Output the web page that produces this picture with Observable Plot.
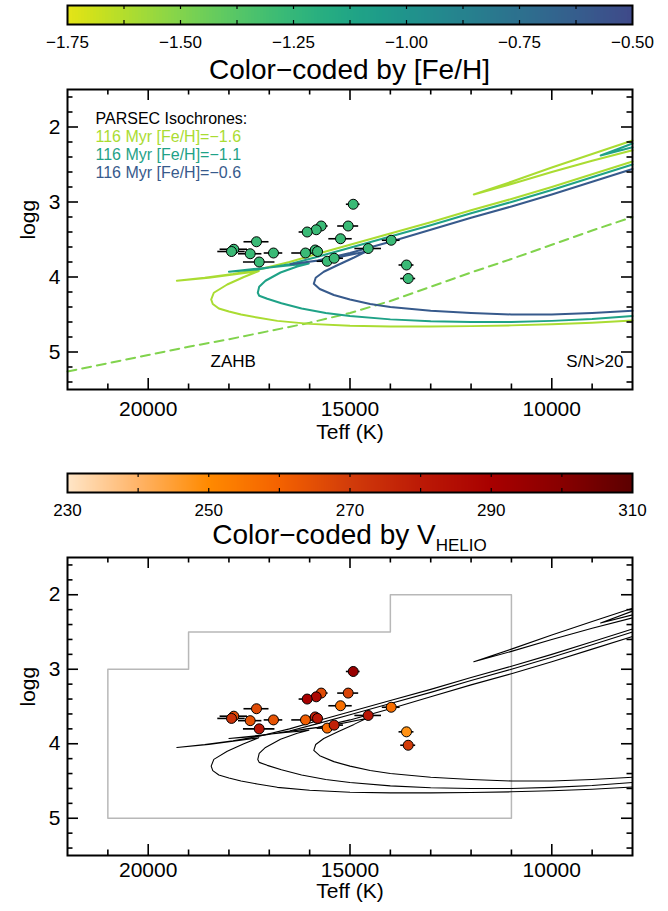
<!DOCTYPE html>
<html><head><meta charset="utf-8">
<script src="https://cdn.jsdelivr.net/npm/d3@7"></script>
<script src="https://cdn.jsdelivr.net/npm/@observablehq/plot@0.6"></script>
<style>
html,body{margin:0;padding:0;background:#fff;}
#root{position:relative;width:668px;height:911px;overflow:hidden;font-family:"Liberation Sans",Arial,Helvetica,sans-serif;color:#000;}
.title{position:absolute;left:67px;width:565px;text-align:center;font-size:28px;line-height:28px;white-space:nowrap;z-index:5;}
</style></head>
<body><div id="root"></div>
<script>
// ---------- data ----------
const starTeff   = [14920, 15713, 15837, 16061, 15045, 15235, 17317, 17879, 17936, 17473, 16896, 16103, 15862, 15805, 17250, 15565, 15392, 14549, 13979, 13600, 13558];
const starLogg   = [3.03, 3.32, 3.37, 3.40, 3.32, 3.49, 3.53, 3.63, 3.66, 3.69, 3.68, 3.68, 3.64, 3.66, 3.80, 3.79, 3.75, 3.62, 3.51, 3.84, 4.02];
const starTeffErr= [170, 170, 170, 200, 260, 290, 310, 340, 340, 290, 230, 340, 150, 150, 390, 250, 230, 330, 220, 185, 185];
const starFeH    = [-1.27, -1.27, -1.27, -1.27, -1.27, -1.27, -1.27, -1.27, -1.27, -1.27, -1.27, -1.27, -1.27, -1.27, -1.27, -1.27, -1.27, -1.27, -1.27, -1.27, -1.27];
const starVhelio = [295, 266, 287, 290, 268, 257, 266, 266, 273, 264, 264, 261, 279, 281, 282, 258, 278, 282, 257, 248, 270];

// PARSEC isochrones, 116 Myr
const isoFeH = [-1.6, -1.1, -0.6];
const iso16Teff = [8000, 9000, 10000, 11000, 12000, 13000, 14000, 15000, 16000, 16800, 17300, 17700, 18000, 18250, 18400, 18440, 18374, 18042, 17630, 17260, 17800, 18500, 19290, 18600, 17900, 17260, 16500, 15800, 15000, 14000, 13000, 12000, 11000, 10000, 9000, 8000];
const iso16Logg = [4.58, 4.61, 4.63, 4.645, 4.655, 4.66, 4.66, 4.65, 4.625, 4.585, 4.54, 4.50, 4.46, 4.42, 4.36, 4.30, 4.21, 4.10, 4.00, 3.92, 3.96, 4.01, 4.05, 4.01, 3.96, 3.90, 3.80, 3.69, 3.57, 3.42, 3.27, 3.11, 2.96, 2.80, 2.63, 2.46];
const iso16LoopTeff = [8000, 9000, 10000, 11000, 11932, 11000, 10000, 9000, 8000];
const iso16LoopLogg = [2.18, 2.36, 2.54, 2.73, 2.90, 2.76, 2.60, 2.45, 2.31];
const iso11Teff = [8000, 9000, 10000, 11000, 12000, 13000, 14000, 15000, 15600, 16200, 16700, 17050, 17250, 17285, 17250, 17094, 16722, 16308, 16020, 16600, 17300, 18000, 17300, 16500, 15800, 15000, 14000, 13000, 12000, 11000, 10000, 9000, 8000];
const iso11Logg = [4.52, 4.56, 4.585, 4.60, 4.60, 4.59, 4.565, 4.52, 4.48, 4.42, 4.35, 4.29, 4.25, 4.21, 4.13, 4.05, 3.94, 3.86, 3.82, 3.85, 3.89, 3.93, 3.90, 3.83, 3.73, 3.61, 3.46, 3.31, 3.15, 3.00, 2.84, 2.67, 2.50];
const iso11LoopTeff = [8000, 8790, 8000];
const iso11LoopLogg = [2.22, 2.38, 2.27];
const iso06Teff = [8000, 9000, 10000, 11000, 12000, 13000, 14000, 14500, 15000, 15400, 15750, 15897, 15850, 15650, 15300, 14900, 14600, 15500, 16470, 15800, 15000, 14000, 13000, 12000, 11000, 10000, 9000, 8000];
const iso06Logg = [4.45, 4.48, 4.50, 4.50, 4.48, 4.45, 4.40, 4.36, 4.30, 4.24, 4.16, 4.09, 4.01, 3.93, 3.84, 3.74, 3.66, 3.76, 3.83, 3.78, 3.68, 3.53, 3.37, 3.21, 3.06, 2.90, 2.73, 2.56];

// ZAHB (dashed)
const zahbFeH = -1.5;
const zahbTeff = [22000, 21000, 20000, 19000, 18000, 17000, 16000, 15000, 14000, 13000, 12000, 11000, 10000, 9000, 8000];
const zahbLogg = [5.26, 5.15, 5.04, 4.93, 4.83, 4.72, 4.61, 4.48, 4.32, 4.13, 3.94, 3.76, 3.57, 3.38, 3.20];

// selection box (bottom panel)
const boxTeff = [21000, 21000, 11000, 11000, 14000, 14000, 19000, 19000, 21000];
const boxLogg = [3.0, 5.0, 5.0, 2.0, 2.0, 2.5, 2.5, 3.0, 3.0];

// ticks and labels
const xMajor = [10000, 15000, 20000];
const xMinor = [9000, 11000, 12000, 13000, 14000, 16000, 17000, 18000, 19000, 21000];
const yMajor = [2, 3, 4, 5];
const yMinor = [1.6, 1.8, 2.2, 2.4, 2.6, 2.8, 3.2, 3.4, 3.6, 3.8, 4.2, 4.4, 4.6, 4.8, 5.2, 5.4];
const fehBarDomain = [-1.75, -0.5];
const fehBarLabels = [-1.75, -1.5, -1.25, -1.0, -0.75, -0.5];
const fehBarTicks = [-1.625, -1.5, -1.375, -1.25, -1.125, -1.0, -0.875, -0.75, -0.625];
const vBarDomain = [230, 310];
const vBarLabels = [230, 250, 270, 290, 310];
const vBarTicks = [240, 250, 260, 270, 280, 290, 300];
const vStops  = [230, 240, 250, 260, 270, 280, 290, 300, 310];
const vColors = ["#ffe6c8", "#ffb468", "#ff8a00", "#f46200", "#d23c0a", "#bc1a06", "#a80000", "#880000", "#5c0000"];
const legendTitle = "PARSEC Isochrones:";
const legendLabels = ["116 Myr [Fe/H]=\u22121.6", "116 Myr [Fe/H]=\u22121.1", "116 Myr [Fe/H]=\u22120.6"];

// ---------- tables ----------
const stars = starTeff.map((t, i) => ({teff: t, logg: starLogg[i], err: starTeffErr[i], feh: starFeH[i], vhelio: starVhelio[i]}));
const pts = (T, L, extra) => T.map((t, i) => ({teff: t, logg: L[i], ...extra}));
const iso = [
  ...pts(iso16Teff, iso16Logg, {seg: "a16", feh: isoFeH[0]}),
  ...pts(iso16LoopTeff, iso16LoopLogg, {seg: "b16", feh: isoFeH[0]}),
  ...pts(iso11Teff, iso11Logg, {seg: "a11", feh: isoFeH[1]}),
  ...pts(iso11LoopTeff, iso11LoopLogg, {seg: "b11", feh: isoFeH[1]}),
  ...pts(iso06Teff, iso06Logg, {seg: "a06", feh: isoFeH[2]})
];
const zahb = pts(zahbTeff, zahbLogg, {feh: zahbFeH});
const box = pts(boxTeff, boxLogg, {});

const FONT = '"Liberation Sans", Arial, Helvetica, sans-serif';
const fehColor = {type: "linear", domain: fehBarDomain, range: [0.96, 0.22], interpolate: t => d3.interpolateViridis(t)};
const vColor = {type: "linear", domain: vStops, range: vColors};

const W = 668, ML = 67, MR = 36, FW = W - ML - MR;

function colorbar(color, domain, ticks, labels, fmt) {
  const n = FW;
  const dv = (domain[1] - domain[0]) / n;
  const steps = d3.range(n).map(i => domain[0] + i * dv);
  const BH = 19;
  return Plot.plot({
    width: W, height: 5 + BH + 38, marginLeft: ML, marginRight: MR, marginTop: 5, marginBottom: 38,
    x: {domain}, y: {domain: [0, 1]}, color,
    style: {fontFamily: FONT, color: "#000", background: "transparent"},
    marks: [
      Plot.rect(steps, {x1: d => d, x2: d => d + dv * 1.6, y1: 0, y2: 1, fill: d => d + dv / 2, clip: true, shapeRendering: "crispEdges"}),
      Plot.tickX(ticks, {x: d => d, insetBottom: BH - 4, strokeWidth: 1.2}),
      Plot.tickX(ticks, {x: d => d, insetTop: BH - 4, strokeWidth: 1.2}),
      Plot.frame({strokeWidth: 2}),
      Plot.axisX({ticks: labels, tickSize: 0, tickPadding: 11, tickFormat: fmt, fontSize: 17, label: null}),
      Plot.axisY({ticks: [], tickSize: 0, label: null})
    ]
  });
}

function panel(o) {
  const FH = o.frameH;
  const marks = [];
  if (o.box) marks.push(Plot.line(box, {x: "teff", y: "logg", stroke: "#b8b8b8", strokeWidth: 1.5}));
  if (o.zahb) marks.push(Plot.line(zahb, {x: "teff", y: "logg", stroke: "feh", strokeWidth: 2, strokeDasharray: "9,6"}));
  marks.push(Plot.line(iso, {x: "teff", y: "logg", z: "seg", stroke: o.colored ? "feh" : "black", strokeWidth: o.colored ? 2 : 1.1}));
  marks.push(Plot.ruleY(stars, {y: "logg", x1: d => d.teff - d.err, x2: d => d.teff + d.err, stroke: "black", strokeWidth: 1.6}));
  marks.push(Plot.dot(stars, {x: "teff", y: "logg", r: 5, fill: o.fillKey, stroke: "black", strokeWidth: 1}));
  if (o.legend) {
    marks.push(Plot.text([legendTitle], {text: d => d, frameAnchor: "top-left", dx: 28, dy: 29.5, textAnchor: "start", lineAnchor: "middle", fontSize: 16, fill: "black"}));
    legendLabels.forEach((lab, i) => {
      marks.push(Plot.text([{lab, feh: isoFeH[i]}], {text: "lab", fill: "feh", frameAnchor: "top-left", dx: 28, dy: 47.5 + i * 18, textAnchor: "start", lineAnchor: "middle", fontSize: 16}));
    });
  }
  if (o.notes) {
    marks.push(Plot.text(["ZAHB"], {text: d => d, frameAnchor: "bottom-left", dx: 143, dy: -28, textAnchor: "start", lineAnchor: "middle", fontSize: 17}));
    marks.push(Plot.text(["S/N>20"], {text: d => d, frameAnchor: "bottom-right", dx: -9, dy: -28, textAnchor: "end", lineAnchor: "middle", fontSize: 17}));
  }
  marks.push(
    Plot.frame({strokeWidth: 2}),
    Plot.tickX(xMajor, {x: d => d, insetTop: FH - 11, strokeWidth: 1.6}),
    Plot.tickX(xMajor, {x: d => d, insetBottom: FH - 11, strokeWidth: 1.6}),
    Plot.tickX(xMinor, {x: d => d, insetTop: FH - 5.5, strokeWidth: 1.6}),
    Plot.tickX(xMinor, {x: d => d, insetBottom: FH - 5.5, strokeWidth: 1.6}),
    Plot.tickY(yMajor, {y: d => d, insetRight: FW - 11, strokeWidth: 1.6}),
    Plot.tickY(yMajor, {y: d => d, insetLeft: FW - 11, strokeWidth: 1.6}),
    Plot.tickY(yMinor, {y: d => d, insetRight: FW - 5.5, strokeWidth: 1.6}),
    Plot.tickY(yMinor, {y: d => d, insetLeft: FW - 5.5, strokeWidth: 1.6}),
    Plot.axisX({ticks: xMajor, tickSize: 0, tickPadding: o.xPad, tickFormat: d => String(d), fontSize: 21, label: null}),
    Plot.axisY({ticks: yMajor, tickSize: 0, tickPadding: 7, tickFormat: d => String(d), fontSize: 21, label: null}),
    Plot.text(["Teff (K)"], {text: d => d, frameAnchor: "bottom", dy: o.labelDy, lineAnchor: "middle", fontSize: 21}),
    Plot.text(["logg"], {text: d => d, frameAnchor: "left", dx: -39, rotate: -90, lineAnchor: "middle", fontSize: 21})
  );
  return Plot.plot({
    width: W, height: 10 + FH + o.mb, marginLeft: ML, marginRight: MR, marginTop: 10, marginBottom: o.mb,
    x: {domain: [22000, 8000]}, y: {domain: [5.5, 1.5]}, color: o.color,
    style: {fontFamily: FONT, color: "#000", background: "transparent", overflow: "visible"},
    marks
  });
}

const root = document.getElementById("root");
function place(el, top) { el.style.position = "absolute"; el.style.left = "0px"; el.style.top = top + "px"; root.appendChild(el); }

place(colorbar(fehColor, fehBarDomain, fehBarTicks, fehBarLabels, d3.format(".2f")), 0);
place(panel({frameH: 300, mb: 61, colored: true, color: fehColor, fillKey: "feh", legend: true, notes: true, zahb: true, box: false, xPad: 12, labelDy: 43}), 79);
place(colorbar(vColor, vBarDomain, vBarTicks, vBarLabels, d3.format("d")), 468);
place(panel({frameH: 298, mb: 56, colored: false, color: vColor, fillKey: "vhelio", legend: false, notes: false, zahb: false, box: true, xPad: 7, labelDy: 36}), 547);

const t1 = document.createElement("div");
t1.className = "title"; t1.style.top = "56px";
t1.textContent = "Color\u2212coded by [Fe/H]";
root.appendChild(t1);
const t2 = document.createElement("div");
t2.className = "title"; t2.style.top = "521px";
t2.innerHTML = "Color\u2212coded by V<span style=\"font-size:17px;position:relative;top:7px\">HELIO</span>";
root.appendChild(t2);
</script>
</body></html>
